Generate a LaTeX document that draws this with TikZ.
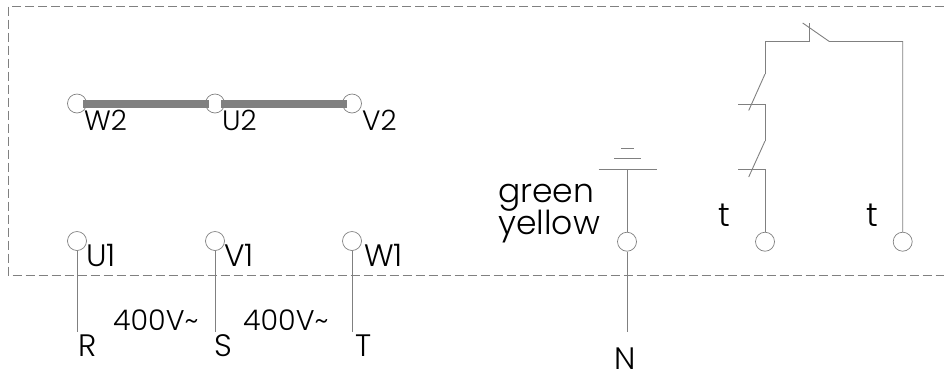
\documentclass[tikz,border=0pt]{standalone}
\usepackage{fontspec}
\setmainfont{Poppins}[UprightFont=* Light]
\definecolor{wire}{gray}{0.5}
\tikzset{
  every picture/.style={x=1pt,y=-1pt},
  term/.style={circle,draw=wire,line width=0.7pt,minimum size=19pt,inner sep=0pt},
  wireline/.style={draw=wire,line width=0.9pt},
  busbar/.style={draw=wire,line width=8.5pt},
  frameline/.style={draw=wire,line width=0.7pt,dash pattern=on 9.5pt off 3.5pt},
  lab/.style={inner sep=0pt,anchor=base west,text=black},
  labs/.style={lab,font=\fontsize{28}{30}\selectfont},
  labm/.style={lab,font=\fontsize{31}{33}\selectfont},
  labv/.style={lab,font=\fontsize{28.5}{31}\selectfont},
  labl/.style={lab,font=\fontsize{33}{36}\selectfont}
}
\begin{document}
\begin{tikzpicture}
\useasboundingbox (0,0) rectangle (944,376);
% frame
\coordinate (ftr) at (944,6.5); \coordinate (ftl) at (8,6.5);
\coordinate (fbl) at (8,275); \coordinate (fbr) at (944,275);
\draw[frameline] (ftr) -- (ftl) -- (fbl) -- (fbr);
% terminals
\node[term] (w2) at (77,103.5) {};
\node[term] (u2) at (215,103.5) {};
\node[term] (v2) at (352,103.5) {};
\node[term] (u1) at (77,241) {};
\node[term] (v1) at (215,241) {};
\node[term] (w1) at (352,241) {};
\node[term] (pe) at (627,241.7) {};
\node[term] (ta) at (765,241.7) {};
\node[term] (tb) at (902.7,241.7) {};
% bars
\draw[busbar] (83,104) -- (209,104);
\draw[busbar] (221,104) -- (347,104);
% free ends
\coordinate (re) at (77,332); \coordinate (se) at (215,332);
\coordinate (te) at (352,332); \coordinate (ne) at (627,332);
\draw[wireline] (u1) -- (re);
\draw[wireline] (v1) -- (se);
\draw[wireline] (w1) -- (te);
\draw[wireline] (pe) -- (ne);
% ground
\coordinate (g0) at (627,169.7);
\draw[wireline] (pe) -- (g0);
\draw[wireline] (598.7,169.7) -- (656.7,169.7);
\draw[wireline] (614,158.7) -- (641,158.7);
\draw[wireline] (621,148) -- (634,148);
% contacts chain
\coordinate (s1) at (765,169.7); \coordinate (s2) at (765,141);
\coordinate (s3) at (765,104); \coordinate (s4) at (765,74);
\coordinate (s5) at (765,41.5); \coordinate (s6) at (809.3,41.5);
\coordinate (s7) at (829.3,41.5); \coordinate (s8) at (902.7,41.5);
\draw[wireline] (ta) -- (s1) -- (738,169.7);
\draw[wireline] (s2) -- (748.7,177);
\draw[wireline] (s2) -- (s3) -- (738,104);
\draw[wireline] (s4) -- (748.7,110.5);
\draw[wireline] (s4) -- (s5) -- (s6) -- (809.3,23);
\draw[wireline] (802.7,23) -- (s7) -- (s8) -- (tb);
% labels
\node[labs] at (84,130.7) {W2};
\node[labs] at (222,130.7) {U2};
\node[labs] at (362,130.7) {V2};
\node[labm] at (86,266.7) {U1};
\node[labm] at (224,266.7) {V1};
\node[labm] at (364,266.7) {W1};
\node[labm] at (78,356) {R};
\node[labm] at (214,356) {S};
\node[labm] at (355,356) {T};
\node[labm] at (614,369) {N};
\node[labv] at (113,330) {400V\char`\~};
\node[labv] at (243,330) {400V\char`\~};
\node[labl] at (498,202) {green};
\node[labl] at (498,234) {yellow};
\node[labl] at (718,226) {t};
\node[labl] at (866,226) {t};
\end{tikzpicture}
\end{document}
